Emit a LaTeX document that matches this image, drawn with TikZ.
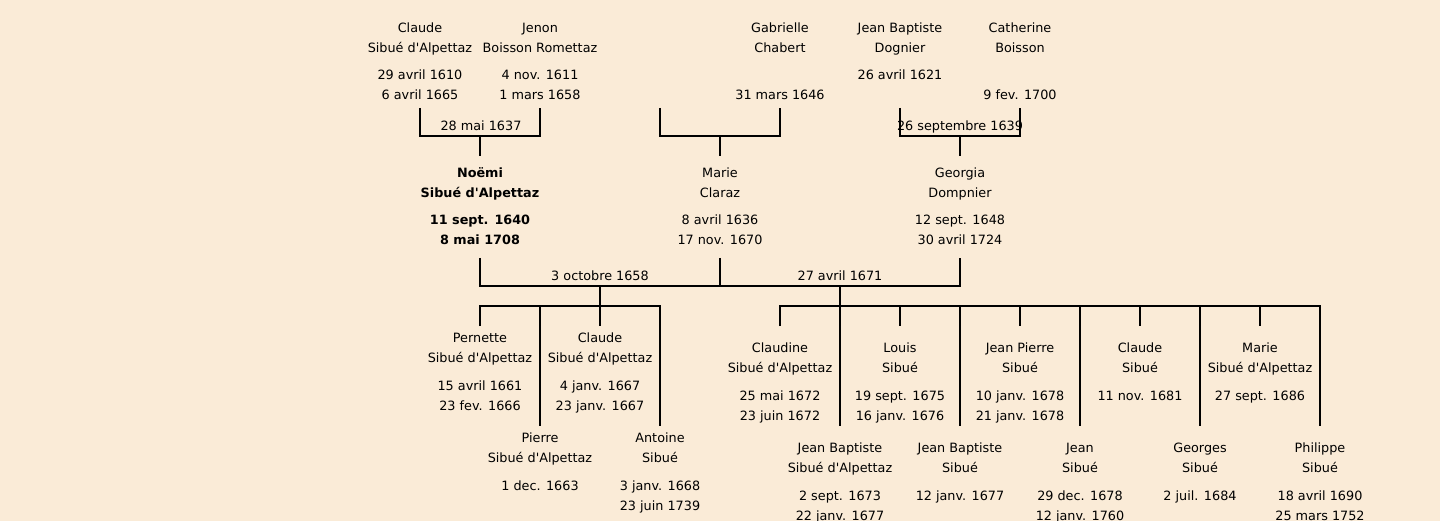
\documentclass[tikz,border=0pt]{standalone}
\usepackage{fontspec}
\setmainfont{DejaVu Sans}[Ligatures=TeXOff]
\definecolor{bg}{RGB}{250,235,215}
\newcommand\pline[3]{\if\relax\detokenize{#3}\relax\else\node[txt] (#1) at #2 {#3};\fi}
\newcommand\pers[7]{%
  \pline{#1a}{(#2,#3)}{#4}%
  \pline{#1b}{(#2,#3+20)}{#5}%
  \pline{#1c}{(#2,#3+47.5)}{#6}%
  \pline{#1d}{(#2,#3+67.5)}{#7}%
}
\begin{document}
\begin{tikzpicture}[x=1pt,y=-1pt,
  txt/.style={anchor=base,inner sep=0pt,font=\fontsize{12.8}{15}\selectfont},
  link/.style={draw=black,line width=2pt}]
\fill[bg] (0,0) rectangle (1440,521);
\useasboundingbox (0,0) rectangle (1440,521);

% grandparents
\pers{gpa}{420}{32.5}{Claude}{Sibué d'Alpettaz}{29 avril 1610}{6 avril 1665}
\pers{gpb}{540}{32.5}{Jenon}{Boisson Romettaz}{4 nov. 1611}{1 mars 1658}
\pers{gpc}{780}{32.5}{Gabrielle}{Chabert}{}{31 mars 1646}
\pers{gpd}{900}{32.5}{Jean Baptiste}{Dognier}{26 avril 1621}{}
\pers{gpe}{1020}{32.5}{Catherine}{Boisson}{}{9 fev. 1700}

% parents
\begin{scope}[txt/.append style={font=\fontsize{12.8}{15}\selectfont\bfseries}]
\pers{pa}{480}{177.5}{Noëmi}{Sibué d'Alpettaz}{11 sept. 1640}{8 mai 1708}
\end{scope}
\pers{pb}{720}{177.5}{Marie}{Claraz}{8 avril 1636}{17 nov. 1670}
\pers{pc}{960}{177.5}{Georgia}{Dompnier}{12 sept. 1648}{30 avril 1724}

% children, first marriage
\pers{ca}{480}{342.5}{Pernette}{Sibué d'Alpettaz}{15 avril 1661}{23 fev. 1666}
\pers{cb}{540}{442.5}{Pierre}{Sibué d'Alpettaz}{1 dec. 1663}{}
\pers{cc}{600}{342.5}{Claude}{Sibué d'Alpettaz}{4 janv. 1667}{23 janv. 1667}
\pers{cd}{660}{442.5}{Antoine}{Sibué}{3 janv. 1668}{23 juin 1739}

% children, second marriage
\pers{da}{780}{352.5}{Claudine}{Sibué d'Alpettaz}{25 mai 1672}{23 juin 1672}
\pers{db}{840}{452.5}{Jean Baptiste}{Sibué d'Alpettaz}{2 sept. 1673}{22 janv. 1677}
\pers{dc}{900}{352.5}{Louis}{Sibué}{19 sept. 1675}{16 janv. 1676}
\pers{dd}{960}{452.5}{Jean Baptiste}{Sibué}{12 janv. 1677}{}
\pers{de}{1020}{352.5}{Jean Pierre}{Sibué}{10 janv. 1678}{21 janv. 1678}
\pers{df}{1080}{452.5}{Jean}{Sibué}{29 dec. 1678}{12 janv. 1760}
\pers{dg}{1140}{352.5}{Claude}{Sibué}{11 nov. 1681}{}
\pers{dh}{1200}{452.5}{Georges}{Sibué}{2 juil. 1684}{}
\pers{di}{1260}{352.5}{Marie}{Sibué d'Alpettaz}{27 sept. 1686}{}
\pers{dj}{1320}{452.5}{Philippe}{Sibué}{18 avril 1690}{25 mars 1752}

% marriage labels
\node[txt] (m1) at (481,130.5) {28 mai 1637};
\node[txt] (m3) at (960,130.5) {26 septembre 1639};
\node[txt] (m4) at (600,280.5) {3 octobre 1658};
\node[txt] (m5) at (840,280.5) {27 avril 1671};

% top brackets
\coordinate (u1) at (420,108); \coordinate (u2) at (540,108);
\coordinate (u3) at (660,108); \coordinate (u4) at (780,108);
\coordinate (u5) at (900,108); \coordinate (u6) at (1020,108);
\coordinate (j1) at (480,136); \coordinate (j2) at (720,136); \coordinate (j3) at (960,136);
\coordinate (k1) at (480,156); \coordinate (k2) at (720,156); \coordinate (k3) at (960,156);
\draw[link] (u1) -- (u1 |- j1) -- (u2 |- j1) -- (u2);
\draw[link] (u3) -- (u3 |- j2) -- (u4 |- j2) -- (u4);
\draw[link] (u5) -- (u5 |- j3) -- (u6 |- j3) -- (u6);
\draw[link] (j1) -- (k1);
\draw[link] (j2) -- (k2);
\draw[link] (j3) -- (k3);

% middle bracket
\coordinate (v1) at (480,258); \coordinate (v2) at (720,258); \coordinate (v3) at (960,258);
\coordinate (h1) at (600,286); \coordinate (h2) at (840,286);
\coordinate (g1) at (600,306); \coordinate (g2) at (840,306);
\draw[link] (v1) -- (v1 |- h1) -- (v3 |- h1) -- (v3);
\draw[link] (v2) -- (v2 |- h1);
\draw[link] (h1) -- (g1);
\draw[link] (h2) -- (g2);

% children bars
\coordinate (s1) at (480,306); \coordinate (s2) at (660,306);
\coordinate (s3) at (780,306); \coordinate (s4) at (1320,306);
\draw[link] (480,326) -- (s1) -- (s2) -- (660,426);
\draw[link] (540,306) -- (540,426);
\draw[link] (600,306) -- (600,326);
\draw[link] (780,326) -- (s3) -- (s4) -- (1320,426);
\foreach \xx in {840,960,1080,1200} \draw[link] (\xx,306) -- (\xx,426);
\foreach \xx in {900,1020,1140,1260} \draw[link] (\xx,306) -- (\xx,326);
\end{tikzpicture}
\end{document}
